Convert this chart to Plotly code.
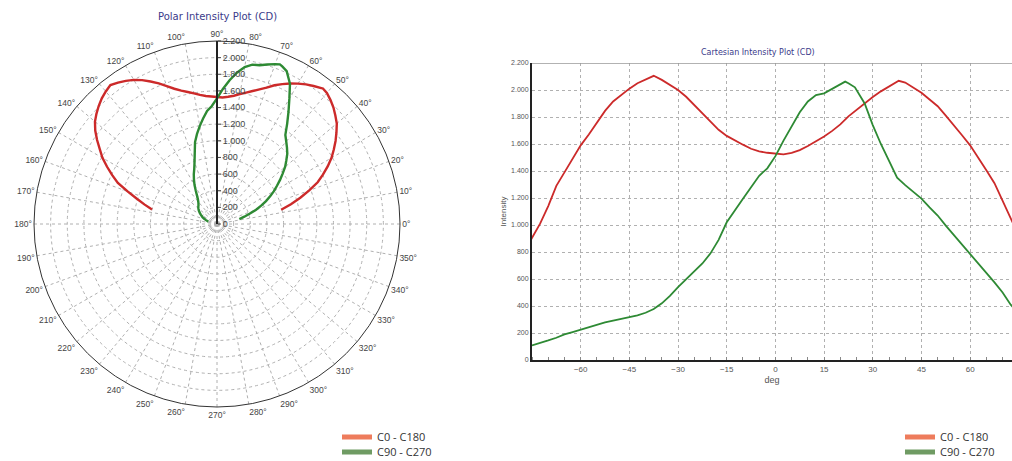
import plotly.graph_objects as go

# Vertical angle (gamma, deg) and luminous intensity (cd) for each C-plane pair
gamma_c0 = [-77.5, -75, -72.5, -70, -67.5, -65, -62.5, -60, -57.5, -55, -52.5, -50,
            -47.5, -45, -42.5, -40, -37.5, -35, -32.5, -30, -27.5, -25, -22.5, -20,
            -17.5, -15, -12.5, -10, -7.5, -5, -2.5, 0, 2.5, 5, 7.5, 10, 12.5, 15,
            17.5, 20, 22.5, 25, 27.5, 30, 32.5, 35, 37.5, 38, 40, 42.5, 45, 47.5,
            50, 52.5, 55, 57.5, 60, 62.5, 65, 67.5, 70, 72.5, 75, 77.5]
cd_c0 = [800, 900, 1010, 1140, 1290, 1390, 1490, 1590, 1670, 1760, 1845, 1915,
         1965, 2010, 2050, 2080, 2105, 2075, 2040, 2000, 1950, 1890, 1830, 1765,
         1705, 1660, 1625, 1595, 1565, 1545, 1535, 1527, 1523, 1535, 1555, 1585,
         1618, 1655, 1697, 1745, 1805, 1855, 1905, 1948, 1990, 2025, 2060, 2068,
         2055, 2020, 1980, 1930, 1880, 1810, 1740, 1665, 1590, 1500, 1405, 1310,
         1180, 1050, 920, 790]

gamma_c90 = [-75, -72.5, -70, -67.5, -65, -62.5, -60, -57.5, -55, -52.5, -50, -47.5,
             -45, -42.5, -40, -37.5, -35, -32.5, -30, -27.5, -25, -22.5, -20, -17.5,
             -15, -12.5, -10, -7.5, -5, -2.5, 0, 2.5, 5, 7.5, 10, 12.5, 15, 17.5, 20,
             21.5, 22.5, 24.5, 27.5, 30, 32.5, 35, 37.5, 40, 42.5, 45, 47.5, 50, 52.5,
             55, 57.5, 60, 62.5, 65, 67.5, 70, 72.5, 75, 77.5]
cd_c90 = [108, 125, 145, 165, 190, 207, 225, 243, 262, 278, 292, 305,
          315, 330, 350, 378, 420, 475, 540, 600, 660, 715, 790, 890,
          1020, 1110, 1195, 1280, 1365, 1420, 1510, 1625, 1735, 1835, 1915, 1962,
          1975, 2010, 2045, 2062, 2050, 2020, 1900, 1740, 1600, 1470, 1350, 1295,
          1245, 1195, 1130, 1070, 995, 925, 855, 790, 720, 650, 575, 500, 410, 340, 275]

series_names = ["C0 - C180", "C90 - C270"]
line_colors = ["#cc2a2a", "#2e8a34"]
legend_colors = ["#ee7c5c", "#6f9b63"]

radial_ticks = list(range(0, 2201, 200))
angle_ticks = list(range(0, 360, 10))
angle_labels = [f"{a}°" for a in angle_ticks]
x_ticks = [-60, -45, -30, -15, 0, 15, 30, 45, 60]
y_ticks = list(range(0, 2201, 200))

W, H = 1012, 461
TITLE_BLUE = "#3a3a8a"
GRID = "#b0b0b0"
FINE_DASH = "3px,3px"


def px_x(v):
    return v / W


def px_y(v):
    return 1 - v / H


fig = go.Figure()

series = [(gamma_c0, cd_c0), (gamma_c90, cd_c90)]

# polar view: gamma 0 points straight up
for (g, cd), name, col in zip(series, series_names, line_colors):
    fig.add_trace(go.Scatterpolar(
        r=cd, theta=[90 - a for a in g], mode="lines",
        line=dict(color=col, width=2.4), name=name, showlegend=False,
        subplot="polar"))

# cartesian view
for (g, cd), name, col in zip(series, series_names, line_colors):
    fig.add_trace(go.Scatter(
        x=g, y=cd, mode="lines", line=dict(color=col, width=1.8),
        name=name, showlegend=False, xaxis="x", yaxis="y"))

# legend entries (one legend box per entry, under each view)
legend_ids = ["legend", "legend2", "legend3", "legend4"]
for i, lid in enumerate(legend_ids):
    k = i % 2
    fig.add_trace(go.Scatter(
        x=[None], y=[None], mode="lines",
        line=dict(color=legend_colors[k], width=5),
        name=series_names[k], legend=lid, showlegend=True,
        xaxis="x", yaxis="y"))

legend_font = dict(family="Open Sans, Noto Sans, sans-serif", size=11, color="#333333")
legend_pos = [(337, 437), (337, 452), (900, 437), (900, 452)]
legend_layout = {}
for lid, (lx, ly) in zip(legend_ids, legend_pos):
    legend_layout[lid] = dict(
        x=px_x(lx), y=px_y(ly), xanchor="left", yanchor="middle",
        bgcolor="rgba(0,0,0,0)", font=legend_font, itemwidth=30)

cx, cy, rad = 217, 224, 183

fig.update_layout(
    width=W, height=H,
    margin=dict(l=0, r=0, t=0, b=0, autoexpand=False),
    paper_bgcolor="white", plot_bgcolor="white",
    separators=",.",
    font=dict(family="Liberation Sans, Arial, sans-serif", color="#444444"),
    polar=dict(
        domain=dict(x=[px_x(cx - rad), px_x(cx + rad)],
                    y=[px_y(cy + rad), px_y(cy - rad)]),
        bgcolor="white",
        radialaxis=dict(
            range=[0, 2200], tickvals=radial_ticks, angle=90, tickangle=90,
            side="clockwise", separatethousands=True,
            showline=True, linecolor="#222222", linewidth=2,
            ticks="outside", ticklen=3, tickcolor="#444444",
            gridcolor=GRID, griddash=FINE_DASH, gridwidth=1,
            tickfont=dict(size=9, color="#444444")),
        angularaxis=dict(
            rotation=0, direction="counterclockwise",
            tickvals=angle_ticks, ticktext=angle_labels, ticks="",
            showline=True, linecolor="#333333", linewidth=1,
            gridcolor=GRID, griddash=FINE_DASH, gridwidth=1,
            tickfont=dict(size=8.5, color="#444444")),
    ),
    xaxis=dict(
        domain=[px_x(532), 1], range=[-75, 72.9],
        tickvals=x_ticks, showgrid=True, gridcolor=GRID, griddash=FINE_DASH,
        zeroline=False, showline=True, linecolor="#222222", linewidth=2,
        ticks="", tickfont=dict(size=8, color="#555555"),
        minor=dict(dtick=5, tick0=0, ticks="inside", ticklen=3,
                   tickcolor="#888888", showgrid=False),
        title=dict(text="deg", font=dict(size=9, color="#555555"), standoff=4),
    ),
    yaxis=dict(
        domain=[px_y(360), px_y(63)], range=[0, 2200],
        tickvals=y_ticks, separatethousands=True,
        showgrid=True, gridcolor=GRID, griddash=FINE_DASH,
        zeroline=False, showline=True, linecolor="#222222", linewidth=2,
        ticks="", tickfont=dict(size=7, color="#555555"),
        title=dict(text="Intensity", font=dict(size=8, color="#555555"), standoff=3),
    ),
    shapes=[dict(type="line", xref="paper", yref="y",
                 x0=px_x(532), x1=1, y0=2200, y1=2200,
                 line=dict(color="#999999", width=1.5))],
    annotations=[
        dict(text="Polar Intensity Plot (CD)", x=px_x(217), y=px_y(16),
             xref="paper", yref="paper", xanchor="center", yanchor="middle",
             showarrow=False,
             font=dict(family="DejaVu Sans, sans-serif", size=10, color=TITLE_BLUE)),
        dict(text="Cartesian Intensity Plot (CD)", x=px_x(758), y=px_y(53),
             xref="paper", yref="paper", xanchor="center", yanchor="middle",
             showarrow=False,
             font=dict(family="DejaVu Sans, sans-serif", size=8, color=TITLE_BLUE)),
    ],
    **legend_layout,
)

fig.write_html("out.html")
